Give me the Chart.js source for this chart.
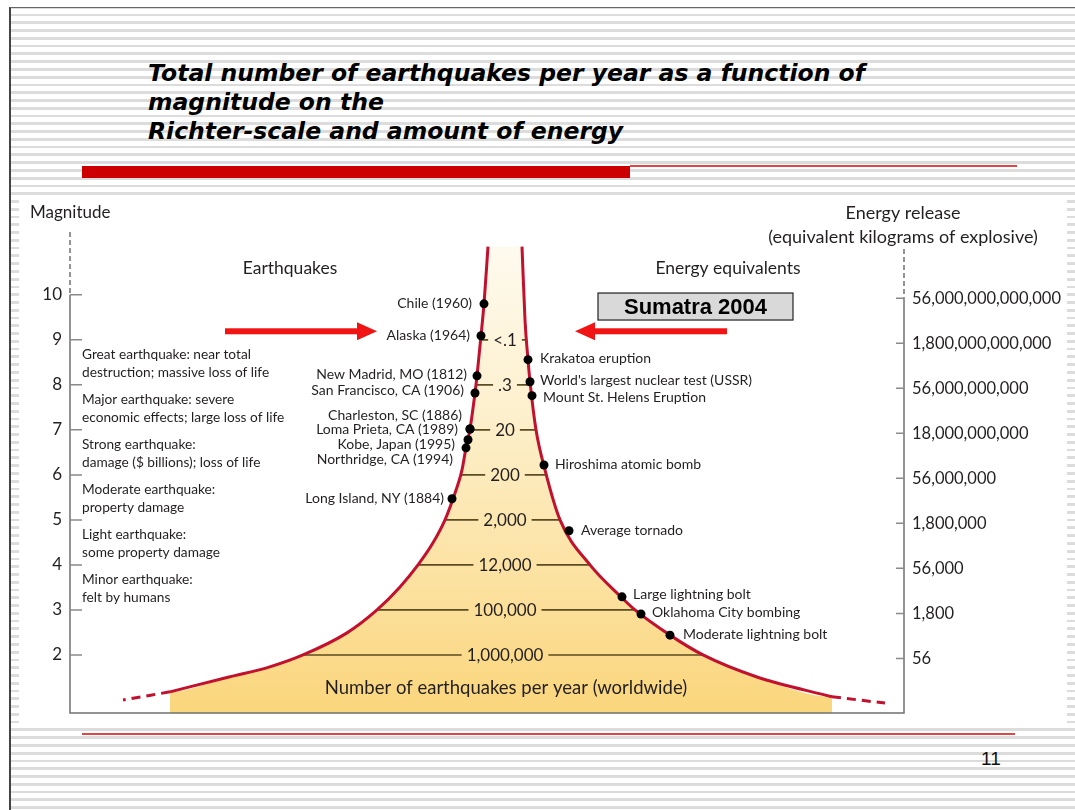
<!DOCTYPE html>
<html>
<head>
<meta charset="utf-8">
<title>Earthquakes per year by magnitude</title>
<script src="https://cdn.jsdelivr.net/npm/chart.js@4.4.1/dist/chart.umd.min.js"></script>
<style>
  html, body { margin: 0; padding: 0; background: #fff; }
  body { width: 1075px; height: 810px; position: relative; overflow: hidden; }
  .slide {
    position: absolute; left: 9px; top: 7px; right: 0; bottom: 0;
    border-left: 2px solid #444; border-top: 1px solid #666;
    background: repeating-linear-gradient(to bottom, #dcdcdc 0px, #dcdcdc 0.6px, #fff 0.6px, #fff 5.6px, #dcdcdc 5.6px, #dcdcdc 7.77px);
  }
  .picture { position: absolute; left: 19px; top: 195px; width: 1048px; height: 532px; background: #fff; }
  .title {
    position: absolute; left: 148px; top: 59px;
    font: italic bold 23.5px "DejaVu Sans", Verdana, sans-serif; line-height: 29px; color: #000;
  }
  .bar { position: absolute; left: 82px; top: 166px; width: 548px; height: 12px; background: #cc0000; }
  .rule { position: absolute; height: 1.5px; background: #e04646; }
  .page-no { position: absolute; left: 981px; top: 748px; font: 19px "Liberation Sans", Arial, sans-serif; color: #111; }
  canvas { position: absolute; left: 0; top: 0; }
</style>
</head>
<body>
<div class="slide"></div>
<div class="picture"></div>
<div class="title">Total number of earthquakes per year as a function of<br>magnitude on the<br>Richter-scale and amount of energy</div>
<div class="bar"></div>
<div class="rule" style="left:630px; top:165px; width:387px;"></div>
<div class="rule" style="left:82px; top:733px; width:933px;"></div>
<div class="page-no">11</div>
<canvas id="quakeChart" width="1075" height="810"></canvas>

<script>
// magnitude ticks and the energy released at each one
const magnitudeTicks = [2, 3, 4, 5, 6, 7, 8, 9, 10];
const energyLabels = ["56", "1,800", "56,000", "1,800,000", "56,000,000", "18,000,000,000",
    "56,000,000,000", "1,800,000,000,000", "56,000,000,000,000"];

// number of earthquakes per year at each magnitude
const countMagnitudes = [2, 3, 4, 5, 6, 7, 8, 9];
const countLabels = ["1,000,000", "100,000", "12,000", "2,000", "200", "20", ".3", "<.1"];
const countLineLeft = [-202, -128, -87, -60, -44, -35, -29, -24];
const countLineRight = [198, 130, 85, 55, 41, 31, 25, 22];

// funnel edges (half width of the funnel vs magnitude)
const leftCurveMag = [11.07, 9.8, 9.09, 8.2, 7.82, 7.02, 6.6, 6.11, 5.47, 5.0, 4.49, 4.0, 3.51, 3.0, 2.49, 2.0, 1.73, 1.51, 1.18];
const leftCurveX = [-17, -21, -24, -28, -30, -35, -39, -43, -52, -60, -72, -87, -105, -128, -158, -202, -236, -276, -335];
const rightCurveMag = [11.07, 9.44, 8.56, 8.07, 7.0, 6.11, 5.0, 4.0, 3.29, 3.0, 2.44, 2.0, 1.51, 1.07];
const rightCurveX = [17, 20, 23, 25, 31, 40, 55, 85, 116, 130, 165, 198, 252, 327];
const leftTailMag = [1.18, 1.0];
const leftTailX = [-335, -382];
const rightTailMag = [1.07, 0.93];
const rightTailX = [327, 380];

// earthquakes (left side)
const quakeNames = ["Chile (1960)", "Alaska (1964)", "New Madrid, MO (1812)", "San Francisco, CA (1906)",
    "Charleston, SC (1886)", "Loma Prieta, CA (1989)", "Kobe, Japan (1995)", "Northridge, CA (1994)",
    "Long Island, NY (1884)"];
const quakeMag = [9.8, 9.09, 8.2, 7.82, 7.02, 7.02, 6.78, 6.6, 5.47];
const quakeX = [-21, -24, -28, -30, -35, -35, -37, -39, -53];

// energy equivalents (right side)
const energyNames = ["Krakatoa eruption", "World's largest nuclear test (USSR)", "Mount St. Helens Eruption",
    "Hiroshima atomic bomb", "Average tornado", "Large lightning bolt", "Oklahoma City bombing",
    "Moderate lightning bolt"];
const energyMag = [8.56, 8.07, 7.76, 6.22, 4.76, 3.29, 2.91, 2.44];
const energyX = [23, 25, 27, 39, 64, 117, 136, 165];

// class descriptions, one per magnitude band
const classMag = [9, 8, 7, 6, 5, 4];
const classText = [
    ["Great earthquake: near total", "destruction; massive loss of life"],
    ["Major earthquake: severe", "economic effects; large loss of life"],
    ["Strong earthquake:", "damage ($ billions); loss of life"],
    ["Moderate earthquake:", "property damage"],
    ["Light earthquake:", "some property damage"],
    ["Minor earthquake:", "felt by humans"],
];

// label nudges in pixels [dx, dy]
const quakeLabelShift = [[-12, 0], [-11, 0], [-10, -1], [-11, -2], [-8, -13], [-12, 1], [-13, 5], [-13, 12], [-8, 0]];
const energyLabelShift = [[12, -1], [10, -1], [11, 2], [11, 0], [12, 0], [11, -2], [11, -1], [13, -1]];

const FONT = 'Lato, "Noto Sans", sans-serif';
const INK = "#231f20";
const CURVE = "#c2102f";
const Y_MIN = 0.71, Y_MAX = 11.44;

function pts(xs, ys) {
    return xs.map((x, i) => ({ x: x, y: ys[i] }));
}

// closed outline of the yellow funnel
const lastL = { x: leftCurveX[leftCurveX.length - 1], y: leftCurveMag[leftCurveMag.length - 1] };
const lastR = { x: rightCurveX[rightCurveX.length - 1], y: rightCurveMag[rightCurveMag.length - 1] };
const funnelOutline = [
    ...pts(leftCurveX, leftCurveMag),
    { x: lastL.x, y: Y_MIN },
    { x: lastR.x, y: Y_MIN },
    ...pts(rightCurveX, rightCurveMag).reverse(),
];

function funnelFill(context) {
    const chart = context.chart;
    if (!chart.chartArea) return "#fde7a8";
    const y = chart.scales.y;
    const g = chart.ctx.createLinearGradient(0, y.getPixelForValue(11), 0, chart.chartArea.bottom);
    g.addColorStop(0, "#fefaee");
    g.addColorStop(0.35, "#fdf0cd");
    g.addColorStop(0.7, "#fce2a2");
    g.addColorStop(1, "#fad67c");
    return g;
}

function label(ctx, text, x, y, size, align) {
    ctx.font = size + "px " + FONT;
    ctx.textAlign = align || "left";
    ctx.textBaseline = "middle";
    ctx.fillStyle = INK;
    ctx.fillText(text, x, y);
}

function arrow(ctx, x0, x1, y, dir) {
    // x1 is the tip
    ctx.fillStyle = "#f01414";
    const head = 20 * dir;
    ctx.fillRect(Math.min(x0, x1 - head), y - 3, Math.abs(x1 - head - x0), 6);
    ctx.beginPath();
    ctx.moveTo(x1, y);
    ctx.lineTo(x1 - head, y - 9);
    ctx.lineTo(x1 - head, y + 9);
    ctx.closePath();
    ctx.fill();
}

const funnelDecor = {
    id: "funnelDecor",
    afterDatasetDraw(chart, args) {
        if (args.index !== 0) return;
        const { ctx, scales: { x, y } } = chart;
        const cx = x.getPixelForValue(0);
        ctx.save();
        ctx.font = "17px " + FONT;
        countMagnitudes.forEach((m, i) => {
            const py = y.getPixelForValue(m);
            const w = ctx.measureText(countLabels[i]).width;
            ctx.strokeStyle = "#5b4c22";
            ctx.lineWidth = 1.6;
            ctx.beginPath();
            ctx.moveTo(x.getPixelForValue(countLineLeft[i]), py);
            ctx.lineTo(cx - w / 2 - 5, py);
            ctx.moveTo(cx + w / 2 + 5, py);
            ctx.lineTo(x.getPixelForValue(countLineRight[i]), py);
            ctx.stroke();
            label(ctx, countLabels[i], cx, py + 1, 17, "center");
            ctx.font = "17px " + FONT;
        });
        label(ctx, "Number of earthquakes per year (worldwide)", cx + 1, y.getPixelForValue(1.27), 18.5, "center");
        ctx.restore();
    },
    afterDraw(chart) {
        const { ctx, chartArea: a, scales: { x, y, y2 } } = chart;
        ctx.save();

        // axes
        ctx.strokeStyle = "#707070";
        ctx.lineWidth = 1.5;
        ctx.beginPath();
        ctx.moveTo(a.left, y.getPixelForValue(10));
        ctx.lineTo(a.left, a.bottom);
        ctx.lineTo(a.right, a.bottom);
        ctx.lineTo(a.right, y2.getPixelForValue(10));
        ctx.stroke();
        ctx.setLineDash([5, 3]);
        ctx.beginPath();
        ctx.moveTo(a.left, a.top + 2);
        ctx.lineTo(a.left, y.getPixelForValue(10));
        ctx.moveTo(a.right, 249);
        ctx.lineTo(a.right, y2.getPixelForValue(10));
        ctx.stroke();
        ctx.setLineDash([]);
        ctx.strokeStyle = "#8a8a8a";
        magnitudeTicks.forEach((m) => {
            const py = y.getPixelForValue(m);
            const py2 = y2.getPixelForValue(m);
            ctx.beginPath();
            ctx.moveTo(a.left, py);
            ctx.lineTo(a.left + 12, py);
            ctx.moveTo(a.right - 8, py2);
            ctx.lineTo(a.right, py2);
            ctx.stroke();
        });

        // headings
        label(ctx, "Magnitude", 30, 213, 17);
        label(ctx, "Energy release", 903, 213, 18, "center");
        label(ctx, "(equivalent kilograms of explosive)", 903, 237, 18, "center");
        label(ctx, "Earthquakes", 290, 268, 17.5, "center");
        label(ctx, "Energy equivalents", 728, 268, 17.5, "center");

        // magnitude classes
        classMag.forEach((m, i) => {
            const py = y.getPixelForValue(m);
            label(ctx, classText[i][0], 82, py + 14.5, 13.7);
            label(ctx, classText[i][1], 82, py + 32.5, 13.7);
        });

        // event labels
        quakeNames.forEach((n, i) => {
            const s = quakeLabelShift[i];
            label(ctx, n, x.getPixelForValue(quakeX[i]) + s[0], y.getPixelForValue(quakeMag[i]) + s[1], 14, "right");
        });
        energyNames.forEach((n, i) => {
            const s = energyLabelShift[i];
            label(ctx, n, x.getPixelForValue(energyX[i]) + s[0], y.getPixelForValue(energyMag[i]) + s[1], 14, "left");
        });

        // Sumatra 2004 call-out
        const bx0 = x.getPixelForValue(93), bx1 = x.getPixelForValue(288);
        const by0 = y.getPixelForValue(10.04), by1 = y.getPixelForValue(9.44);
        ctx.fillStyle = "#d9d9d9";
        ctx.fillRect(bx0, by0, bx1 - bx0, by1 - by0);
        ctx.strokeStyle = "#222";
        ctx.lineWidth = 1.2;
        ctx.strokeRect(bx0, by0, bx1 - bx0, by1 - by0);
        ctx.font = 'bold 22px "Liberation Sans", Arial, sans-serif';
        ctx.textAlign = "center";
        ctx.textBaseline = "middle";
        ctx.fillStyle = "#000";
        ctx.fillText("Sumatra 2004", (bx0 + bx1) / 2, (by0 + by1) / 2 + 1);

        const ay = y.getPixelForValue(9.19);
        arrow(ctx, x.getPixelForValue(-280), x.getPixelForValue(-128), ay, 1);
        arrow(ctx, x.getPixelForValue(222), x.getPixelForValue(70), ay, -1);
        ctx.restore();
    },
};

const axisTicks = {
    grid: { display: false, drawTicks: false },
    border: { display: false },
};

const curveStyle = {
    showLine: true, cubicInterpolationMode: "monotone",
    borderColor: CURVE, borderWidth: 3, pointRadius: 0, order: 5,
};

new Chart(document.getElementById("quakeChart"), {
    type: "scatter",
    data: {
        datasets: [
            {
                data: funnelOutline, showLine: true, fill: "shape", cubicInterpolationMode: "monotone",
                backgroundColor: funnelFill, borderWidth: 0, pointRadius: 0, order: 10,
            },
            { ...curveStyle, data: pts(leftCurveX, leftCurveMag) },
            { ...curveStyle, data: pts(rightCurveX, rightCurveMag) },
            { ...curveStyle, data: pts(leftTailX, leftTailMag), borderDash: [9, 6] },
            { ...curveStyle, data: pts(rightTailX, rightTailMag), borderDash: [9, 6] },
            {
                data: pts(quakeX, quakeMag), pointRadius: 4.5, pointBorderWidth: 0,
                backgroundColor: "#000", order: 1,
            },
            {
                data: pts(energyX, energyMag), pointRadius: 4.5, pointBorderWidth: 0,
                backgroundColor: "#000", order: 1,
            },
        ],
    },
    options: {
        responsive: false,
        animation: false,
        devicePixelRatio: 1,
        layout: { padding: { left: 19, right: 8, top: 230, bottom: 97 } },
        plugins: { legend: { display: false }, tooltip: { enabled: false } },
        scales: {
            x: { type: "linear", min: -435, max: 399, display: false },
            y: {
                ...axisTicks,
                type: "linear",
                position: "left",
                min: Y_MIN,
                max: Y_MAX,
                afterBuildTicks: (s) => { s.ticks = magnitudeTicks.map((v) => ({ value: v })); },
                afterFit: (s) => { s.width = 51; },
                ticks: {
                    padding: 8, autoSkip: false, color: INK,
                    font: { family: FONT, size: 17 },
                    callback: (v) => String(v),
                },
            },
            y2: {
                ...axisTicks,
                type: "linear",
                position: "right",
                min: 0.787,
                max: 11.517,
                afterBuildTicks: (s) => { s.ticks = magnitudeTicks.map((v) => ({ value: v })); },
                afterFit: (s) => { s.width = 163; },
                ticks: {
                    padding: 8, autoSkip: false, color: INK,
                    font: { family: FONT, size: 16.5 },
                    callback: (v) => energyLabels[magnitudeTicks.indexOf(v)],
                },
            },
        },
    },
    plugins: [funnelDecor],
});
</script>
</body>
</html>
